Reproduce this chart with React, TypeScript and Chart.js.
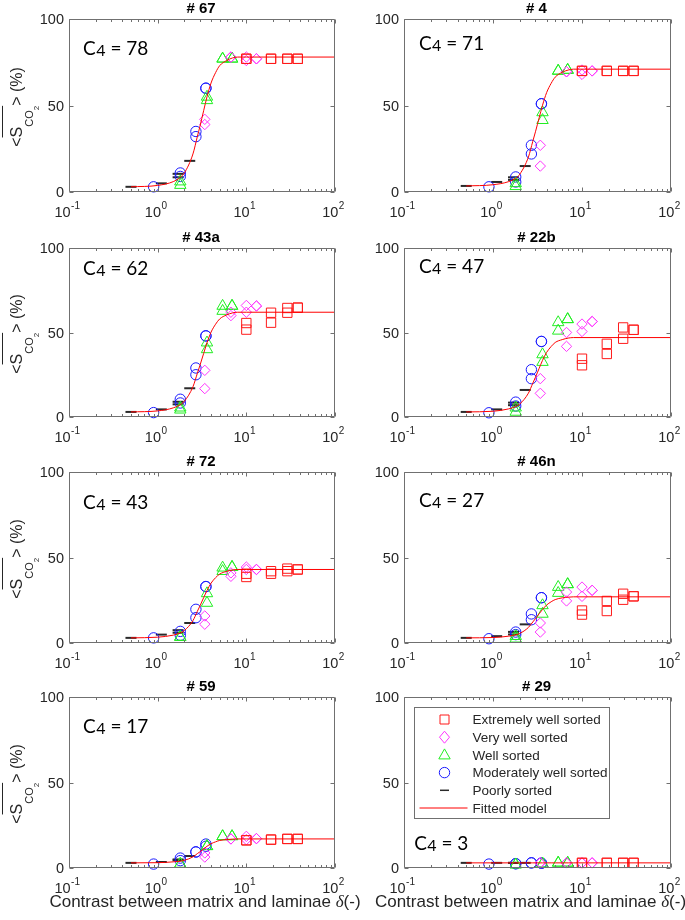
import React, { useEffect, useRef } from "react";
import { Chart, registerables } from "chart.js";
Chart.register(...registerables);

// ---------------- data ----------------
const panelTitles = ["# 67", "# 4", "# 43a", "# 22b", "# 72", "# 46n", "# 59", "# 29"];
const c4Values = [78, 71, 62, 47, 43, 27, 17, 3];
const c4LabelX = [0.144, 0.147, 0.144, 0.147, 0.144, 0.147, 0.144, 0.13];
const c4LabelY = [79.2, 82, 84, 85, 78.2, 79.7, 79.1, 10.5];

const xTickValues = [0.1, 1, 10, 100];
const xTickExponents = ["-1", "0", "1", "2"];
const yTickValues = [0, 50, 100];
const yTickLabels = ["0", "50", "100"];

const legendLabels = [
  "Extremely well sorted",
  "Very well sorted",
  "Well sorted",
  "Moderately well sorted",
  "Poorly sorted",
  "Fitted model",
];

const circleX = [0.9, 1.8, 1.8, 2.7, 2.7, 3.5, 3.5];
const triangleX = [1.8, 1.8, 3.6, 3.6, 5.4, 5.4, 6.9, 6.9];
const diamondX = [3.4, 3.4, 6.7, 6.7, 10, 10, 13, 13];
const squareX = [10, 10, 19, 19, 29, 29, 38, 38];
const dashX = [0.5, 1.1, 1.7, 1.7, 2.3];
const curveX = [0.5, 1, 1.5, 1.8, 2, 2.5, 2.8, 3, 3.3, 3.6, 4, 4.5, 5, 6, 7, 8, 10, 100];

// # 67
const circleY67 = [3, 11, 9, 35, 32, 60, 60];
const triangleY67 = [4, 6, 55, 53, 77, 77, 77, 77];
const diamondY67 = [42, 39, 78, 78, 78, 76, 77, 77];
const squareY67 = [77, 77, 77, 77, 77, 77, 77, 77];
const dashY67 = [3, 5, 10.5, 8.5, 18];
const curveY67 = [3, 3.8, 6, 8.5, 11, 22, 32, 38, 47, 55, 63, 69, 73, 76, 77.5, 78, 78, 78];
// # 4
const circleY4 = [3, 8.7, 5.8, 27, 22, 51, 51];
const triangleY4 = [3.3, 5, 46, 41.5, 70, 70, 70.5, 70.5];
const diamondY4 = [27, 15, 69.5, 69.5, 70.5, 68, 70, 70];
const squareY4 = [70, 70, 70, 70, 70, 70, 70, 70];
const dashY4 = [3.5, 5.8, 8.5, 7, 15];
const curveY4 = [3.5, 4.2, 6, 8, 10.3, 20.2, 29.3, 34.8, 42.9, 50.1, 57.4, 62.8, 66.4, 69.2, 70.5, 71, 71, 71];
// # 43a
const circleY43a = [2.6, 10.5, 8.3, 29, 25, 48, 48];
const triangleY43a = [4.3, 5.5, 44, 40, 65.7, 62.7, 65.7, 65.7];
const diamondY43a = [27.6, 16.8, 60, 62, 66, 62, 65.7, 65.7];
const squareY43a = [55.6, 51.7, 61.7, 55.8, 64.5, 61.7, 64.7, 64.7];
const dashY43a = [3, 4.5, 9, 7.5, 17];
const curveY43a = [3, 3.6, 5.4, 7.3, 9.3, 17.9, 25.8, 30.6, 37.6, 43.9, 50.2, 54.9, 58, 60.4, 61.6, 62, 62, 62];
// # 22b
const circleY22b = [2.5, 8.8, 6.5, 28, 22.7, 44.7, 44.7];
const triangleY22b = [3, 5.5, 37, 32.5, 56, 51, 57.8, 57.8];
const diamondY22b = [22.7, 14, 50, 41.8, 55, 50.6, 56.5, 56.5];
const squareY22b = [34.5, 30.6, 43.3, 37.3, 53, 46.3, 51.6, 51.6];
const dashY22b = [3, 4.5, 8.5, 7, 16];
const curveY22b = [3, 3.4, 4.8, 6.2, 7.7, 14.1, 20, 23.5, 28.8, 33.5, 38.2, 41.7, 44.1, 45.8, 46.7, 47, 47, 47];
// # 72
const circleY72 = [3, 6.8, 4.5, 19.7, 14.8, 33, 33];
const triangleY72 = [3.5, 3.5, 29, 23.4, 44, 42, 44.4, 44.4];
const diamondY72 = [15.8, 11, 41, 39, 44.4, 43, 43, 43];
const squareY72 = [40.5, 38.6, 42, 40.5, 43.5, 42, 43, 43];
const dashY72 = [3, 4.9, 7.5, 6, 11.7];
const curveY72 = [3, 3.4, 4.6, 5.9, 7.3, 13.1, 18.5, 21.7, 26.5, 30.7, 35, 38.2, 40.3, 41.9, 42.7, 43, 43, 43];
// # 46n
const circleY46n = [2.5, 6.4, 4.9, 17, 13.6, 26.5, 26.5];
const triangleY46n = [2.5, 4, 22, 17, 32.7, 29.2, 34.3, 34.3];
const diamondY46n = [11.7, 6.4, 29.8, 24.6, 32.7, 27.3, 30.8, 30.8];
const squareY46n = [19, 16.6, 24.6, 18.7, 28.8, 25.3, 27.3, 27.3];
const dashY46n = [3, 4, 6.5, 5, 10.9];
const curveY46n = [3, 3.2, 4, 4.8, 5.6, 9.1, 12.3, 14.2, 17.1, 19.6, 22.2, 24.1, 25.4, 26.4, 26.8, 27, 27, 27];
// # 59
const circleY59 = [2.3, 5.8, 4.3, 9.4, 9.4, 14, 12.7];
const triangleY59 = [2.3, 2.3, 12.7, 12.7, 18.5, 18.5, 18.5, 18.5];
const diamondY59 = [8.8, 6.4, 17, 17, 18.5, 16.6, 17.2, 17.2];
const squareY59 = [16.2, 16.2, 16.6, 16.6, 17, 17, 17, 17];
const dashY59 = [3, 3.5, 5, 4.5, 7];
const curveY59 = [3, 3.1, 3.6, 4, 4.5, 6.5, 8.4, 9.5, 11.2, 12.7, 14.2, 15.3, 16.1, 16.6, 16.9, 17, 17, 17];
// # 29
const circleY29 = [2.3, 2.5, 2.5, 3, 3, 2.8, 2.8];
const triangleY29 = [2, 2, 2.5, 2.5, 3, 3, 3, 3];
const diamondY29 = [3, 3, 3, 3, 3, 3, 3, 3];
const squareY29 = [3, 3, 3, 3, 3, 3, 3, 3];
const dashY29 = [3, 3, 3, 3, 3];
const curveY29 = [3, 3, 3, 3, 3, 3, 3, 3, 3, 3, 3, 3, 3, 3, 3, 3, 3, 3];

const panelSeries = [
  [squareY67, diamondY67, triangleY67, circleY67, dashY67, curveY67],
  [squareY4, diamondY4, triangleY4, circleY4, dashY4, curveY4],
  [squareY43a, diamondY43a, triangleY43a, circleY43a, dashY43a, curveY43a],
  [squareY22b, diamondY22b, triangleY22b, circleY22b, dashY22b, curveY22b],
  [squareY72, diamondY72, triangleY72, circleY72, dashY72, curveY72],
  [squareY46n, diamondY46n, triangleY46n, circleY46n, dashY46n, curveY46n],
  [squareY59, diamondY59, triangleY59, circleY59, dashY59, curveY59],
  [squareY29, diamondY29, triangleY29, circleY29, dashY29, curveY29],
];
const seriesX = [squareX, diamondX, triangleX, circleX, dashX, curveX];

// ---------------- styles / layout ----------------
const COLORS = ["#ff1a1a", "#ff33ff", "#22ee22", "#1a1aff", "#2a2a2a", "#ff0000"];
const STYLES = ["rect", "rectRot", "triangle", "circle", "line"];
const RADII = [6.6, 5.2, 6.6, 5.2, 5.5];
const AXIS_COLOR = "#707070";
const TEXT_COLOR = "#262626";
const SANS = '"Liberation Sans", Arial, sans-serif';

const colBands = [
  [0, 400],
  [340, 685],
];
const colPlot = [
  [69, 335],
  [404, 671],
];
const rowBands = [
  [0, 225],
  [225, 450],
  [450, 680],
  [680, 920],
];
const rowPlot = [
  [19, 192],
  [248, 417],
  [472, 643],
  [697, 868],
];

function markerPath(ctx: CanvasRenderingContext2D, style: string, x: number, y: number) {
  ctx.beginPath();
  if (style === "rect") {
    ctx.rect(x - 4.5, y - 4.5, 9, 9);
  } else if (style === "rectRot") {
    ctx.moveTo(x, y - 6);
    ctx.lineTo(x + 5, y);
    ctx.lineTo(x, y + 6);
    ctx.lineTo(x - 5, y);
    ctx.closePath();
  } else if (style === "triangle") {
    ctx.moveTo(x, y - 6);
    ctx.lineTo(x + 5.7, y + 4);
    ctx.lineTo(x - 5.7, y + 4);
    ctx.closePath();
  } else if (style === "circle") {
    ctx.arc(x, y, 5.2, 0, Math.PI * 2);
  } else {
    ctx.moveTo(x - 4.5, y);
    ctx.lineTo(x + 4.5, y);
  }
}

function makeDecor(idx: number) {
  const col = idx % 2;
  const row = Math.floor(idx / 2);
  return {
    id: "decor" + idx,
    afterDatasetsDraw(chart: any) {
      const ctx: CanvasRenderingContext2D = chart.ctx;
      const a = chart.chartArea;
      const xs = chart.scales.x;
      const ys = chart.scales.y;
      ctx.save();
      // box + ticks
      ctx.strokeStyle = AXIS_COLOR;
      ctx.lineWidth = 1;
      const L = Math.round(a.left) + 0.5;
      const R = Math.round(a.right) - 0.5;
      const T = Math.round(a.top) + 0.5;
      const B = Math.round(a.bottom) - 0.5;
      ctx.beginPath();
      ctx.rect(L, T, R - L, B - T);
      for (let e = -1; e <= 2; e++) {
        for (let m = 1; m <= 9; m++) {
          const v = m * Math.pow(10, e);
          if (v > 100.0001) break;
          const px = Math.round(xs.getPixelForValue(v)) + 0.5;
          const len = m === 1 ? 4 : 2.5;
          ctx.moveTo(px, B);
          ctx.lineTo(px, B - len);
          ctx.moveTo(px, T);
          ctx.lineTo(px, T + len);
        }
      }
      yTickValues.forEach((v) => {
        const py = Math.round(ys.getPixelForValue(v)) + 0.5;
        ctx.moveTo(L, py);
        ctx.lineTo(L + 4, py);
        ctx.moveTo(R, py);
        ctx.lineTo(R - 4, py);
      });
      ctx.stroke();

      // y tick labels
      ctx.fillStyle = TEXT_COLOR;
      ctx.font = "14.5px " + SANS;
      ctx.textAlign = "right";
      ctx.textBaseline = "middle";
      yTickValues.forEach((v, i) => {
        ctx.fillText(yTickLabels[i], a.left - 5, ys.getPixelForValue(v) + 1);
      });
      // x tick labels
      ctx.textAlign = "left";
      ctx.textBaseline = "alphabetic";
      xTickValues.forEach((v, i) => {
        ctx.font = "14.5px " + SANS;
        const wb = ctx.measureText("10").width;
        ctx.font = "10px " + SANS;
        const ws = ctx.measureText(xTickExponents[i]).width;
        const start = xs.getPixelForValue(v) - (wb + ws) / 2 - 2;
        ctx.font = "14.5px " + SANS;
        ctx.fillText("10", start, a.bottom + 25);
        ctx.font = "10px " + SANS;
        ctx.fillText(xTickExponents[i], start + wb + 0.5, a.bottom + 17);
      });

      // title
      ctx.fillStyle = "#000";
      ctx.font = "bold 15px " + SANS;
      ctx.textAlign = "center";
      ctx.fillText(panelTitles[idx], (a.left + a.right) / 2 - 1, a.top - 6);

      // C4 label
      ctx.textAlign = "left";
      const cx = xs.getPixelForValue(c4LabelX[idx]);
      const cy = ys.getPixelForValue(c4LabelY[idx]);
      ctx.font = "19px Lato, sans-serif";
      ctx.fillText("C", cx, cy);
      let w = ctx.measureText("C").width + 0.5;
      ctx.font = "16px Lato, sans-serif";
      ctx.fillText("4", cx + w, cy + 1);
      w += ctx.measureText("4").width;
      ctx.font = "19px Lato, sans-serif";
      ctx.fillText(" = " + c4Values[idx], cx + w, cy);

      // y-axis label (left column)
      if (col === 0) {
        ctx.save();
        const midY = (a.top + a.bottom) / 2 + 1.5;
        ctx.translate(a.left - 47, midY);
        ctx.rotate(-Math.PI / 2);
        ctx.fillStyle = TEXT_COLOR;
        ctx.strokeStyle = TEXT_COLOR;
        const parts: [string, number, number][] = [
          ["<", 16, 0],
          ["S", 16, 0],
          ["CO", 11, 11],
          ["2", 8, 17],
          [">", 16, 0],
          [" (%)", 16, 0],
        ];
        let total = 0;
        const widths: number[] = [];
        parts.forEach(([t, fs]) => {
          ctx.font = fs + "px " + SANS;
          const ww = ctx.measureText(t).width;
          widths.push(ww);
          total += ww;
        });
        let pos = -total / 2;
        let olStart = 0;
        let olEnd = 0;
        parts.forEach(([t, fs, dy], i) => {
          ctx.font = fs + "px " + SANS;
          if (i === 1) olStart = pos;
          ctx.fillText(t, pos, dy);
          pos += widths[i];
          if (i === 3) olEnd = pos;
        });
        ctx.lineWidth = 1;
        ctx.beginPath();
        ctx.moveTo(olStart, -19.5);
        ctx.lineTo(olEnd, -19.5);
        ctx.stroke();
        ctx.restore();
      }

      // x-axis title (bottom row)
      if (row === 3) {
        ctx.fillStyle = TEXT_COLOR;
        const main = "Contrast between matrix and laminae ";
        const fs = 17;
        ctx.font = fs + "px " + SANS;
        const w1 = ctx.measureText(main).width;
        const w3 = ctx.measureText("(-)").width;
        ctx.font = "italic " + fs + 'px "Liberation Serif", serif';
        const w2 = ctx.measureText("δ").width;
        const tot = w1 + w2 + w3;
        const center = (a.left + a.right) / 2 + (col === 1 ? -7 : 3);
        const sx = center - tot / 2;
        const by = a.bottom + 39;
        ctx.textAlign = "left";
        ctx.font = fs + "px " + SANS;
        ctx.fillText(main, sx, by);
        ctx.font = "italic " + fs + 'px "Liberation Serif", serif';
        ctx.fillText("δ", sx + w1, by);
        ctx.font = fs + "px " + SANS;
        ctx.fillText("(-)", sx + w1 + w2, by);
      }

      // legend (last panel)
      if (idx === 7) {
        const bx = Math.round(a.left + 10) + 0.5;
        const by = Math.round(a.top + 10) + 0.5;
        ctx.fillStyle = "#fff";
        ctx.fillRect(bx, by, 195, 111);
        ctx.strokeStyle = AXIS_COLOR;
        ctx.lineWidth = 1;
        ctx.strokeRect(bx, by, 195, 111);
        legendLabels.forEach((lab, i) => {
          const ly = by + 12 + i * 17.7;
          ctx.strokeStyle = COLORS[i];
          if (i < 5) {
            ctx.lineWidth = i === 4 ? 1.5 : 1;
            markerPath(ctx, STYLES[i], bx + 30, ly);
            ctx.stroke();
          } else {
            ctx.lineWidth = 1;
            ctx.beginPath();
            ctx.moveTo(bx + 5, ly);
            ctx.lineTo(bx + 53, ly);
            ctx.stroke();
          }
          ctx.fillStyle = TEXT_COLOR;
          ctx.font = "13.5px " + SANS;
          ctx.textBaseline = "middle";
          ctx.fillText(lab, bx + 58, ly + 1);
        });
      }
      ctx.restore();
    },
  };
}

function Panel({ idx }: { idx: number }) {
  const ref = useRef<HTMLCanvasElement>(null);
  const col = idx % 2;
  const row = Math.floor(idx / 2);
  const [bl, br] = colBands[col];
  const [bt, bb] = rowBands[row];
  const w = br - bl;
  const h = bb - bt;

  useEffect(() => {
    const canvas = ref.current;
    if (!canvas) return;
    const ys = panelSeries[idx];
    const datasets: any[] = [];
    datasets.push({
      label: legendLabels[5],
      data: curveX.map((x, i) => ({ x, y: ys[5][i] })),
      showLine: true,
      borderColor: COLORS[5],
      borderWidth: 1,
      pointRadius: 0,
      cubicInterpolationMode: "monotone",
      fill: false,
      clip: false,
    });
    for (let s = 0; s < 5; s++) {
      datasets.push({
        label: legendLabels[s],
        data: seriesX[s].map((x, i) => ({ x, y: ys[s][i] })),
        showLine: false,
        pointStyle: STYLES[s],
        pointRadius: RADII[s],
        pointBorderColor: COLORS[s],
        pointBackgroundColor: "rgba(0,0,0,0)",
        pointBorderWidth: s === 4 ? 2 : 1,
        borderColor: COLORS[s],
        backgroundColor: "rgba(0,0,0,0)",
        clip: false,
      });
    }
    const chart = new Chart(canvas, {
      type: "scatter",
      data: { datasets },
      options: {
        responsive: false,
        animation: false,
        devicePixelRatio: 1,
        events: [],
        layout: {
          padding: {
            left: colPlot[col][0] - bl,
            right: br - colPlot[col][1],
            top: rowPlot[row][0] - bt,
            bottom: bb - rowPlot[row][1],
          },
        },
        scales: {
          x: { type: "logarithmic", min: 0.1, max: 100, display: false },
          y: { type: "linear", min: 0, max: 100, display: false },
        },
        plugins: {
          legend: { display: false },
          tooltip: { enabled: false },
          title: { display: false },
        },
      } as any,
      plugins: [makeDecor(idx)],
    });
    return () => chart.destroy();
  }, [idx]);

  return (
    <canvas
      ref={ref}
      width={w}
      height={h}
      style={{ position: "absolute", left: bl, top: bt, width: w, height: h, display: "block" }}
    />
  );
}

export default function App() {
  return (
    <div style={{ position: "absolute", left: 0, top: 0, width: 685, height: 920, background: "#fff" }}>
      {panelTitles.map((_, i) => (
        <Panel key={i} idx={i} />
      ))}
    </div>
  );
}
